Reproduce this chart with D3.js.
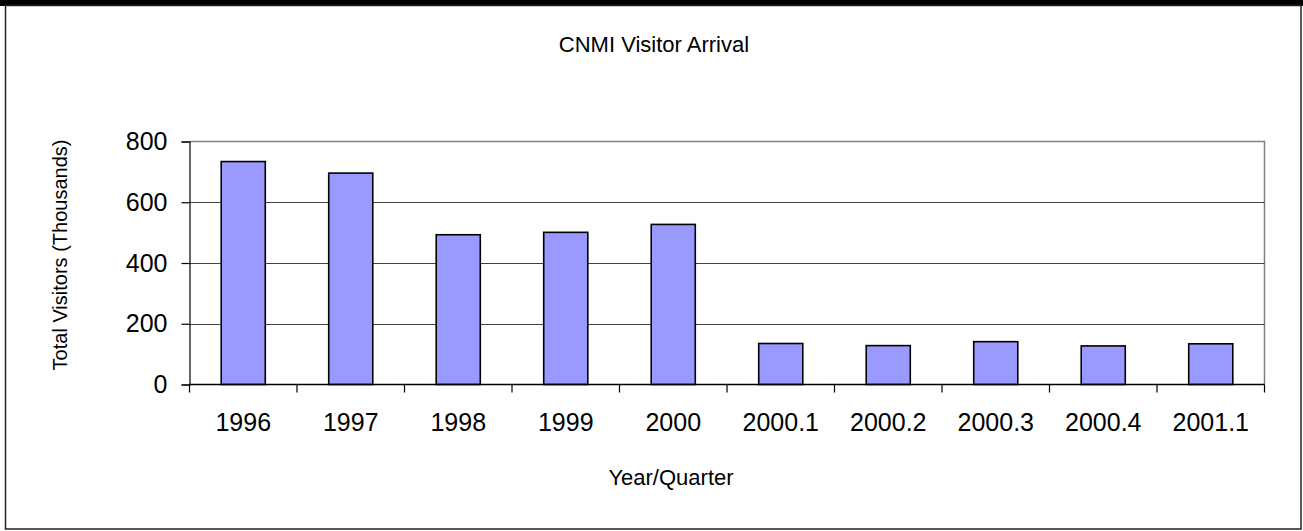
<!DOCTYPE html>
<html><head><meta charset="utf-8">
<script src="https://cdn.jsdelivr.net/npm/d3@7"></script>
<style>
html,body{margin:0;padding:0;background:#fff;}
svg{display:block;font-family:"Liberation Sans",Arial,sans-serif;}
</style></head>
<body>
<svg id="c" width="1303" height="531"></svg>
<script>
const categories = ["1996","1997","1998","1999","2000","2000.1","2000.2","2000.3","2000.4","2001.1"];
const visitors = [734, 696, 493, 501, 527, 135, 128, 141, 127, 134];
const yTicks = [0, 200, 400, 600, 800];
const title = "CNMI Visitor Arrival";
const xTitle = "Year/Quarter";
const yTitle = "Total Visitors (Thousands)";

const svg = d3.select("#c");
const W = 1303, H = 531;
const m = {left: 189.5, right: 1264.5, top: 141.5, bottom: 384.5};

// outer frame
svg.append("rect").attr("x",0).attr("y",0).attr("width",W).attr("height",6).attr("fill","#000");
svg.append("rect").attr("x",5.5).attr("y",5.5).attr("width",1295.5).attr("height",523.5)
  .attr("fill","none").attr("stroke","#222").attr("stroke-width",1.5);

const x = d3.scaleBand().domain(categories).range([m.left, m.right]).paddingInner(0.59).paddingOuter(0.295);
const y = d3.scaleLinear().domain([0, 800]).range([m.bottom, m.top]);

// plot frame (top/right gray)
svg.append("path")
  .attr("d", `M${m.left},${m.top}H${m.right}V${m.bottom}`)
  .attr("fill","none").attr("stroke","#808080").attr("stroke-width",1.5);

// gridlines
svg.append("g").selectAll("line").data(yTicks.filter(d => d > 0 && d < 800)).join("line")
  .attr("x1", m.left).attr("x2", m.right)
  .attr("y1", d => Math.round(y(d)) + 0.5).attr("y2", d => Math.round(y(d)) + 0.5)
  .attr("stroke","#444").attr("stroke-width",1.2);

// bars
svg.append("g").selectAll("rect").data(categories).join("rect")
  .attr("x", d => x(d)).attr("width", x.bandwidth())
  .attr("y", (d,i) => y(visitors[i])).attr("height", (d,i) => y(0) - y(visitors[i]))
  .attr("fill","#9999FF").attr("stroke","#000").attr("stroke-width",1.6);

// y axis
const yAxis = svg.append("g").attr("transform", `translate(${m.left},0)`)
  .call(d3.axisLeft(y).tickValues(yTicks).tickSize(8).tickPadding(14).tickFormat(d3.format("d")));
yAxis.select(".domain").attr("stroke","#000").attr("stroke-width",1.2);
yAxis.selectAll(".tick line").attr("stroke","#000").attr("stroke-width",1.2);
yAxis.selectAll(".tick text").attr("font-size", 25).attr("fill","#000")
  .attr("font-family","Liberation Sans, Arial, sans-serif");

// x axis baseline
svg.append("line").attr("x1", m.left).attr("x2", m.right).attr("y1", m.bottom).attr("y2", m.bottom)
  .attr("stroke","#000").attr("stroke-width",1.4);

// x ticks at band boundaries
const step = x.step();
const bounds = categories.map(c => x(c) - (step - x.bandwidth())/2).concat([m.right]);
svg.append("g").selectAll("line").data(bounds).join("line")
  .attr("x1", d => d).attr("x2", d => d).attr("y1", m.bottom).attr("y2", m.bottom + 8)
  .attr("stroke","#000").attr("stroke-width",1.2);

// x labels
svg.append("g").selectAll("text").data(categories).join("text")
  .attr("x", d => x(d) + x.bandwidth()/2).attr("y", 431)
  .attr("text-anchor","middle").attr("font-size",25).attr("fill","#000").text(d => d);

// titles
svg.append("text").attr("x", 654).attr("y", 52).attr("text-anchor","middle")
  .attr("font-size", 22).attr("fill","#000").text(title);
svg.append("text").attr("x", 671).attr("y", 485).attr("text-anchor","middle")
  .attr("font-size", 22).attr("fill","#000").text(xTitle);
svg.append("text").attr("transform", "translate(67,255) rotate(-90)").attr("text-anchor","middle")
  .attr("font-size", 20).attr("fill","#000").text(yTitle);
</script>
</body></html>
